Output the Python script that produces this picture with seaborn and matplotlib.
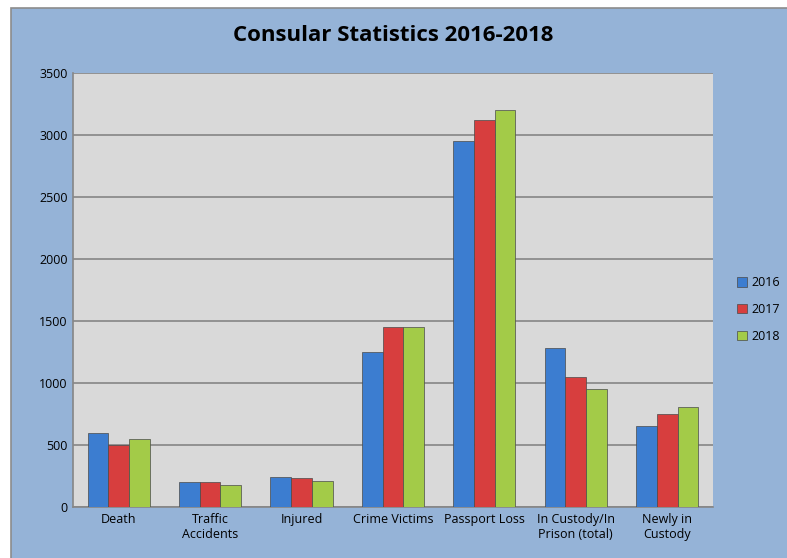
import pandas as pd
import matplotlib.pyplot as plt
import seaborn as sns
from matplotlib.patches import Rectangle

categories = ['Death', 'Traffic\nAccidents', 'Injured', 'Crime Victims', 'Passport Loss',
              'In Custody/In\nPrison (total)', 'Newly in\nCustody']
years = ['2016', '2017', '2018']
v2016 = [600, 200, 240, 1250, 2950, 1280, 650]
v2017 = [500, 200, 230, 1450, 3120, 1050, 750]
v2018 = [550, 175, 210, 1450, 3200, 950, 810]

df = pd.DataFrame({'category': categories * 3,
                   'year': [y for y in years for _ in categories],
                   'value': v2016 + v2017 + v2018})

sns.set_style('white')
plt.rcParams['font.family'] = ['Open Sans', 'DejaVu Sans']
plt.rcParams['text.color'] = 'black'

fig = plt.figure(figsize=(7.87, 5.58), dpi=100)
fig.patch.set_facecolor('white')
# blue chart area with a thin border, white margin on top and left
fig.patches.append(Rectangle((11 / 787, -0.05), 1.1, 1 - 8 / 558 + 0.05, transform=fig.transFigure,
                             facecolor='#95B3D7', edgecolor='#8C8C8C', linewidth=1.2, zorder=-1))

ax = fig.add_axes([0.0928, 0.0914, 0.813, 0.778])
ax.set_facecolor('#D9D9D9')

colors = ['#3C7DD0', '#D73E3E', '#A3CB48']
sns.barplot(data=df, x='category', y='value', hue='year', palette=colors, saturation=1,
            width=0.68, edgecolor='#4A4A4A', linewidth=0.5, ax=ax, zorder=3)

ax.set_ylim(0, 3500)
ax.set_yticks(range(0, 3501, 500))
ax.yaxis.grid(True, color='#868686', linewidth=1.2, zorder=0)
ax.set_axisbelow(True)
ax.set_xlabel('')
ax.set_ylabel('')
ax.tick_params(axis='both', labelsize=9, length=0, pad=4, labelcolor='black')
for s in ['top', 'right']:
    ax.spines[s].set_visible(False)
for s in ['left', 'bottom']:
    ax.spines[s].set_color('#868686')
    ax.spines[s].set_linewidth(1.2)

fig.suptitle('Consular Statistics 2016-2018', fontsize=16, fontweight='bold', y=0.955, color='black')
ax.legend(loc='center left', bbox_to_anchor=(1.02, 0.455), frameon=False, fontsize=9,
          handlelength=0.8, handleheight=0.8, handletextpad=0.4, labelspacing=1.1)

fig.savefig('out.png', dpi=100, facecolor=fig.get_facecolor())
